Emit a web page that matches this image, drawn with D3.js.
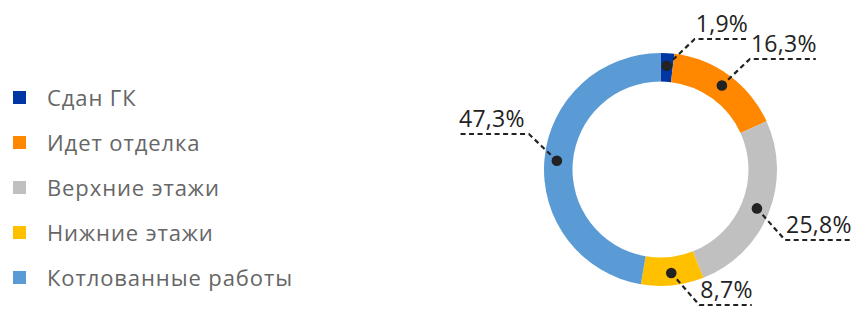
<!DOCTYPE html>
<html><head><meta charset="utf-8">
<script src="https://cdn.jsdelivr.net/npm/d3@7"></script>
<style>
html,body{margin:0;padding:0;background:#fff;}
svg{display:block;}
</style></head>
<body>
<svg id="chart" width="855" height="321"></svg>
<script>
const categories = ["Сдан ГК", "Идет отделка", "Верхние этажи", "Нижние этажи", "Котлованные работы"];
const values = [1.9, 16.3, 25.8, 8.7, 47.3];
const valueLabels = ["1,9%", "16,3%", "25,8%", "8,7%", "47,3%"];
const colors = ["#0036a3", "#ff8800", "#bfc0bf", "#ffc000", "#5b9bd5"];

const svg = d3.select("#chart");
const font = "'Open Sans', sans-serif";

// Legend
const legend = svg.append("g");
const ly = d3.scalePoint().domain(categories).range([97.5, 277.5]);
categories.forEach((c, i) => {
  legend.append("rect").attr("x", 13).attr("y", ly(c) - 6.5).attr("width", 13).attr("height", 13).attr("fill", colors[i]);
  legend.append("text").attr("x", 47).attr("y", ly(c) + 8).attr("font-family", font).attr("font-size", 22)
    .attr("letter-spacing", 0.9).attr("fill", "#666").text(c);
});

// Donut
const cx = 660.5, cy = 169.5, rOut = 116.5, rIn = 88;
const pie = d3.pie().sort(null).value(d => d)(values);
const arc = d3.arc().innerRadius(rIn).outerRadius(rOut);
const g = svg.append("g").attr("transform", `translate(${cx},${cy})`);
g.selectAll("path.slice").data(pie).join("path").attr("class", "slice")
  .attr("d", arc).attr("fill", (d, i) => colors[i]);

const rDot = 104;
pie.forEach((d, i) => {
  const a = (d.startAngle + d.endAngle) / 2;
  const x = Math.sin(a) * rDot, y = -Math.cos(a) * rDot;
  const sx = x >= -20 ? 1 : -1;
  const sy = y < 0 ? -1 : 1;
  const ex = x + sx * 28;
  const ey = Math.round(cy + y + sy * (sy > 0 ? 32 : 27)) - cy;
  const t = g.append("text").attr("font-family", font).attr("font-size", 23).attr("fill", "#222")
    .attr("letter-spacing", 0.3).attr("y", ey - 7).text(valueLabels[i]);
  const w = t.node().getComputedTextLength();
  if (sx > 0) t.attr("x", ex + 1); else t.attr("x", ex - w - 4);
  const lx = ex + sx * (w + (sx > 0 ? 0 : 4));
  g.append("path").attr("d", `M${x},${y}L${ex},${ey}L${lx},${ey}`)
    .attr("fill", "none").attr("stroke", "#222").attr("stroke-width", 2.2).attr("stroke-dasharray", "5,3.5");
  g.append("circle").attr("cx", x).attr("cy", y).attr("r", 5.3).attr("fill", "#222");
});
</script>
</body></html>
